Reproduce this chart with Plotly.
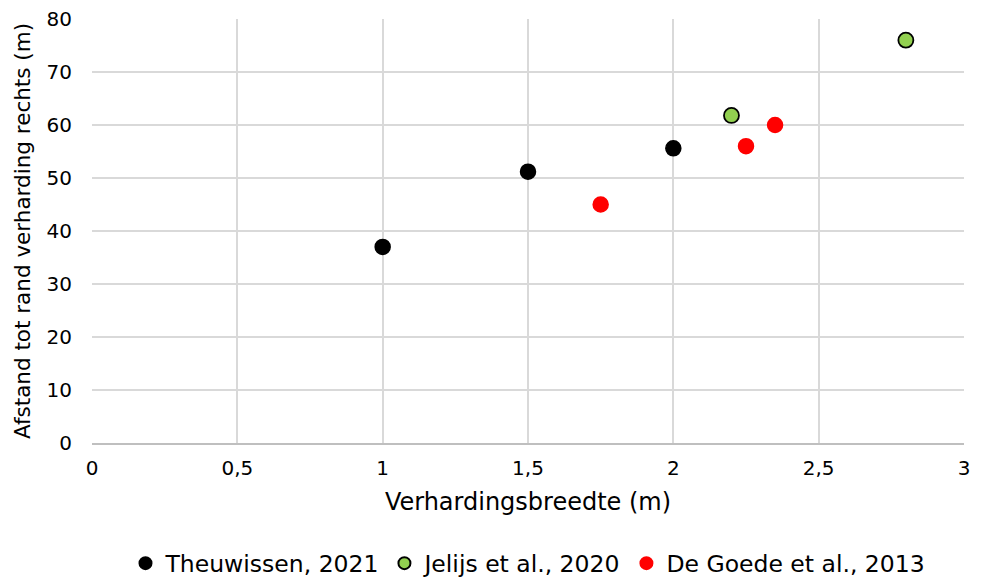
import plotly.graph_objects as go

theu_x = [1.0, 1.5, 2.0]
theu_y = [37.0, 51.2, 55.6]
jel_x = [2.2, 2.8]
jel_y = [61.8, 76.0]
goede_x = [1.75, 2.25, 2.35]
goede_y = [45.0, 56.0, 60.0]

x_ticks = [0, 0.5, 1, 1.5, 2, 2.5, 3]
x_tick_labels = ["0", "0,5", "1", "1,5", "2", "2,5", "3"]
y_ticks = [0, 10, 20, 30, 40, 50, 60, 70, 80]

font_family = "DejaVu Sans, Verdana, sans-serif"

fig = go.Figure()
fig.add_trace(go.Scatter(x=theu_x, y=theu_y, mode="markers", name="Theuwissen, 2021",
                         marker=dict(color="black", size=15, line=dict(color="black", width=1.5))))
fig.add_trace(go.Scatter(x=jel_x, y=jel_y, mode="markers", name="Jelijs et al., 2020",
                         marker=dict(color="#92d050", size=15, line=dict(color="black", width=1.8))))
fig.add_trace(go.Scatter(x=goede_x, y=goede_y, mode="markers", name="De Goede et al., 2013",
                         marker=dict(color="#ff0000", size=15, line=dict(color="#ff0000", width=1.5))))

fig.update_layout(
    width=981, height=579,
    margin=dict(l=84, r=25, t=11, b=144, autoexpand=False),
    plot_bgcolor="white", paper_bgcolor="white",
    font=dict(family=font_family, size=20, color="black"),
    showlegend=True,
    legend=dict(orientation="h", x=0.5, xanchor="center", y=-0.232, yanchor="top",
                font=dict(size=23.5), itemsizing="constant", traceorder="normal",
                itemwidth=30, tracegroupgap=0),
    xaxis=dict(range=[0, 3], tickvals=x_ticks, ticktext=x_tick_labels, automargin=False,
               showgrid=True, gridcolor="#d9d9d9", gridwidth=1.5,
               zeroline=False, showline=True, linecolor="#bfbfbf", linewidth=1.5,
               ticks="", ticklabelstandoff=6, ticklabeloverflow="allow",
               title=dict(text="Verhardingsbreedte (m)", font=dict(size=24), standoff=14)),
    yaxis=dict(range=[0, 80], tickvals=y_ticks, automargin=False,
               showgrid=True, gridcolor="#d9d9d9", gridwidth=1.5,
               zeroline=False, showline=False, ticks="", ticklabelstandoff=19,
               ticklabeloverflow="allow",
               title=dict(text="Afstand tot rand verharding rechts (m)", font=dict(size=21.5), standoff=10)),
)

fig.write_html("out.html")
